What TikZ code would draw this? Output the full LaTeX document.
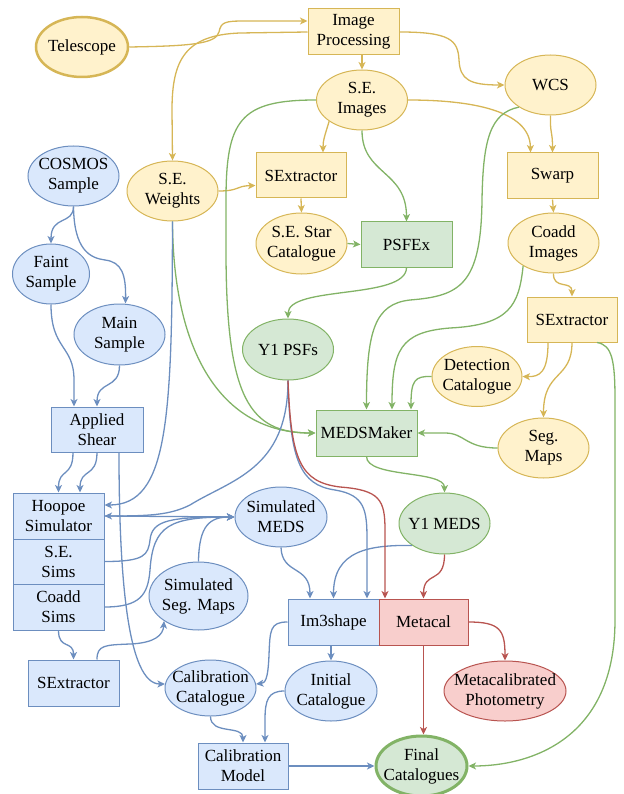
\documentclass[tikz,border=0pt]{standalone}
\usepackage{fontspec}
\setmainfont{Liberation Serif}
\newfontfamily\diafont{Liberation Serif}
\usetikzlibrary{shapes.geometric,arrows.meta}
\definecolor{yf}{HTML}{FFF2CC}\definecolor{ys}{HTML}{D6B656}
\definecolor{bf}{HTML}{DAE8FC}\definecolor{bs}{HTML}{6C8EBF}
\definecolor{gf}{HTML}{D5E8D4}\definecolor{gs}{HTML}{82B366}
\definecolor{rf}{HTML}{F8CECC}\definecolor{rs}{HTML}{B85450}
\begin{document}
\begin{tikzpicture}[x=1pt,y=-1pt,
  every node/.style={font=\diafont\fontsize{17}{20}\selectfont, align=center, line width=1pt, text=black},
  ell/.style={ellipse, inner xsep=-25pt, inner ysep=-12pt, minimum width=91pt, minimum height=60pt},
  box/.style={rectangle, inner sep=0pt, minimum width=91pt, minimum height=46pt},
  Y/.style={draw=ys, fill=yf}, B/.style={draw=bs, fill=bf},
  G/.style={draw=gs, fill=gf}, R/.style={draw=rs, fill=rf},
  arr/.style={line width=1.3pt, -{Stealth[length=7.5pt,width=7pt,inset=2pt]}},
  ya/.style={arr, draw=ys}, ga/.style={arr, draw=gs},
  ba/.style={arr, draw=bs}, ra/.style={arr, draw=rs}]
\useasboundingbox (0,0) rectangle (623,794);
% nodes
\node[ell,Y,line width=2.5pt,minimum width=92pt] (tel) at (82,47) {Telescope};
\node[box,Y] (ip) at (353.5,32) {Image\\Processing};
\node[ell,Y] (sei) at (362,100) {S.E.\\Images};
\node[ell,Y] (wcs) at (550.5,85) {WCS};
\node[box,Y,minimum width=90pt,minimum height=45pt] (sex1) at (301,175.5) {SExtractor};
\node[box,Y] (swarp) at (552.5,176) {Swarp};
\node[ell,Y] (sew) at (172.5,191) {S.E.\\Weights};
\node[ell,B] (cosmos) at (73.5,176) {COSMOS\\Sample};
\node[ell,Y,minimum height=61pt] (sestar) at (301.5,243.5) {S.E. Star\\Catalogue};
\node[box,G,minimum height=45pt] (psfex) at (406.5,244.5) {PSFEx};
\node[ell,Y] (coadd) at (553.5,243) {Coadd\\Images};
\node[box,Y,minimum width=90pt,minimum height=45pt] (sex2) at (572,319.5) {SExtractor};
\node[ell,B,minimum width=77pt] (faint) at (51,274) {Faint\\Sample};
\node[ell,B,minimum height=61pt] (main) at (119.5,334.5) {Main\\Sample};
\node[ell,G,minimum height=61pt] (psf) at (288,349.5) {Y1 PSFs};
\node[ell,Y,minimum width=90pt] (det) at (477,376.5) {Detection\\Catalogue};
\node[box,B,minimum width=92pt,minimum height=45pt] (shear) at (97,429.5) {Applied\\Shear};
\node[box,G,minimum width=101pt] (meds) at (366.5,433) {MEDSMaker};
\node[ell,Y] (seg) at (543.5,448) {Seg.\\Maps};
\node[ell,G,minimum height=61pt] (y1meds) at (444.5,523.5) {Y1 MEDS};
\node[box,B] (hoop) at (58.5,516) {Hoopoe\\Simulator};
\node[box,B,minimum height=45pt] (sesims) at (58.5,561.5) {S.E.\\Sims};
\node[box,B] (coaddsims) at (58.5,607) {Coadd\\Sims};
\node[ell,B,minimum width=92pt] (simmeds) at (281,517) {Simulated\\MEDS};
\node[ell,B,minimum width=99pt,minimum height=68pt] (simseg) at (198.5,596) {Simulated\\Seg. Maps};
\node[box,B] (im3) at (333.5,622) {Im3shape};
\node[box,R,minimum width=89pt] (metacal) at (423.5,622) {Metacal};
\node[box,B] (sex3) at (73.5,683) {SExtractor};
\node[ell,B,minimum height=56pt] (calcat) at (210.5,688) {Calibration\\Catalogue};
\node[ell,B,minimum width=92pt] (initcat) at (331,691) {Initial\\Catalogue};
\node[ell,R,minimum width=122pt] (mcphot) at (505,691) {Metacalibrated\\Photometry};
\node[box,B,minimum width=90pt] (calmodel) at (243,766) {Calibration\\Model};
\node[ell,G,line width=3pt] (final) at (421.5,766) {Final\\Catalogues};
% yellow edges
\draw[ya] (tel.east) .. controls (190,46) and (216,44) .. (219,32) .. controls (221,22) and (225,21) .. (245,21) -- ([yshift=11pt]ip.west);
\draw[ya] (ip.west) -- (240,33) .. controls (185,35) and (172,60) .. (172,110) -- (sew.north);
\draw[ya] (ip.east) .. controls (450,32) and (458,40) .. (459,60) .. controls (460,80) and (470,85) .. (wcs.west);
\draw[ya] (sei.north |- ip.south) -- (sei.north);
\draw[ya] (sei.213) .. controls (325,135) and (323,140) .. ([xshift=22pt]sex1.north);
\draw[ya] (sei.east) .. controls (470,100) and (530,110) .. ([xshift=-22pt]swarp.north);
\draw[ya] (wcs.south) .. controls (550,135) and (552.5,130) .. (swarp.north);
\draw[ya] (sew.east) .. controls (240,191) and (235,186) .. ([yshift=-10pt]sex1.west);
\draw[ya] (sex1.south) -- (sestar.north);
\draw[ya] (swarp.south) -- (coadd.north);
\draw[ya] (coadd.south) .. controls (553,290) and (572,280) .. (sex2.north);
\draw[ya] ([xshift=-24pt]sex2.south) .. controls (548,372) and (540,377) .. (det.east);
\draw[ya] (sex2.south) .. controls (572,380) and (543.5,370) .. (seg.north);
% green edges
\draw[ga] (sei.west) .. controls (240,100) and (226,120) .. (226,200) -- (226,250) .. controls (226,400) and (250,433) .. (meds.west);
\draw[ga] (sew.south) .. controls (173,350) and (220,433) .. (meds.west);
\draw[ga] (sei.south) .. controls (362,175) and (406.5,170) .. (psfex.north);
\draw[ga] (sestar.east) -- (psfex.west);
\draw[ga] (psfex.south) .. controls (406.5,300) and (288,285) .. (psf.north);
\draw[ga] (wcs.215) .. controls (490,113) and (483,140) .. (482,200) .. controls (481,285) and (460,296) .. (410,300) .. controls (375,304) and (366.5,330) .. (meds.north);
\draw[ga] (coadd.217) .. controls (519,305) and (510,325) .. (450,328) .. controls (400,332) and (392,350) .. ([xshift=25.5pt]meds.north);
\draw[ga] (det.west) .. controls (415,376) and (411,380) .. ([xshift=44.5pt]meds.north);
\draw[ga] (seg.west) .. controls (465,448) and (465,433) .. (445,433) -- (meds.east);
\draw[ga] (meds.south) .. controls (366.5,478) and (444.5,470) .. (y1meds.north);
\draw[ga] ([xshift=25pt]sex2.south) .. controls (612,345) and (615,360) .. (615,400) -- (615,620) .. controls (615,740) and (530,766) .. (final.east);
% blue edges
\draw[ba] (cosmos.south) .. controls (73.5,225) and (51,215) .. (faint.north);
\draw[ba] (cosmos.south) .. controls (74,250) and (90,258) .. (105,260) .. controls (122,262) and (126,275) .. ([xshift=6pt]main.north);
\draw[ba] (faint.south) .. controls (51,350) and (74,345) .. (74,380) -- ([xshift=-23pt]shear.north);
\draw[ba] (main.south) .. controls (119.5,390) and (97,380) .. (shear.north);
\draw[ba] ([xshift=-24pt]shear.south) .. controls (73,478) and (58.5,468) .. (hoop.north);
\draw[ba] (shear.south) .. controls (97,478) and (80,468) .. ([xshift=21.5pt]hoop.north);
\draw[ba] ([xshift=22pt]shear.south) .. controls (119,580) and (128,684) .. (calcat.175);
\draw[ba] (psf.south) .. controls (288,470) and (230,480) .. (190,505) .. controls (170,515) and (150,516) .. (hoop.east);
\draw[ba] (hoop.east) -- (simmeds.west);
\draw[ba] (sew.south) .. controls (172,420) and (168,505) .. ([yshift=11pt]hoop.east);
\draw[ba] (sesims.east) .. controls (145,561.5) and (148,555) .. (150,540) .. controls (152,520) and (170,517) .. (simmeds.west);
\draw[ba] (coaddsims.east) .. controls (140,607) and (148,595) .. (150,570) .. controls (153,525) and (170,517) .. (simmeds.west);
\draw[ba] (simseg.north) .. controls (199,525) and (210,517) .. (simmeds.west);
\draw[ba] (psf.south) .. controls (290,460) and (300,485) .. (335,490) .. controls (365,495) and (367,510) .. (367,540) -- ([xshift=33.5pt]im3.north);
\draw[ba] (simmeds.south) .. controls (282,575) and (310,565) .. ([xshift=-23.5pt]im3.north);
\draw[ba] (y1meds.214) .. controls (370,545) and (333.5,550) .. (im3.north);
\draw[ba] (initcat.north |- im3.south) -- (initcat.north);
\draw[ba] (im3.west) .. controls (270,622) and (270,630) .. (269,655) .. controls (268,680) and (265,683) .. (calcat.5);
\draw[ba] (initcat.west) .. controls (268,691) and (265,700) .. (265,720) -- ([xshift=22pt]calmodel.north);
\draw[ba] (calcat.south) .. controls (210.5,735) and (243,725) .. (calmodel.north);
\draw[ba] (calmodel.east) -- (final.west);
\draw[ba] (coaddsims.south) .. controls (58.5,650) and (73.5,640) .. (sex3.north);
\draw[ba] ([xshift=23.5pt]sex3.north) .. controls (97,645) and (105,645) .. (130,644) .. controls (155,643) and (163,635) .. (simseg.216);
% red edges
\draw[ra] (psf.south) .. controls (291,460) and (300,482) .. (340,487) .. controls (380,490) and (385,500) .. (385,530) -- ([xshift=-38.5pt]metacal.north);
\draw[ra] (y1meds.south) .. controls (444.5,585) and (423.5,570) .. (metacal.north);
\draw[ra] (metacal.east) .. controls (500,622) and (505,630) .. (mcphot.north);
\draw[ra] (metacal.south) -- (metacal.south |- final.north);
\end{tikzpicture}
\end{document}
